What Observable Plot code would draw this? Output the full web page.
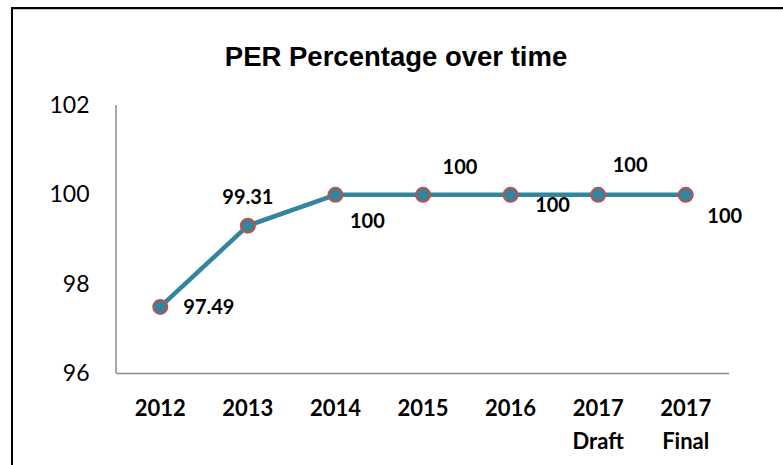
<!DOCTYPE html>
<html><head><meta charset="utf-8">
<script src="https://cdn.jsdelivr.net/npm/d3@7"></script>
<script src="https://cdn.jsdelivr.net/npm/@observablehq/plot@0.6"></script>
<style>
html,body{margin:0;padding:0;background:#fff;}
#wrap{position:relative;width:783px;height:465px;overflow:hidden;}
#chart svg{display:block;}
#border{position:absolute;left:11px;top:7px;width:800px;height:500px;border-top:2px solid #000;border-left:2px solid #000;pointer-events:none;box-shadow: inset 0 1px 0 #c8c8c8;}
</style></head><body>
<div id="wrap"><div id="chart"></div><div id="border"></div></div>
<script>
const categories = ["2012","2013","2014","2015","2016","2017\nDraft","2017\nFinal"];
const values = [97.49, 99.31, 100, 100, 100, 100, 100];
const valueLabels = ["97.49","99.31","100","100","100","100","100"];
const yTicks = [96, 98, 100, 102];
const title = "PER Percentage over time";

// label placement (style, not data)
const labelOffsets = [
  {dx: 23, dy: 1, anchor: "start"},
  {dx: 0, dy: -28, anchor: "middle"},
  {dx: 32, dy: 27, anchor: "middle"},
  {dx: 37, dy: -27, anchor: "middle"},
  {dx: 42, dy: 11, anchor: "middle"},
  {dx: 32, dy: -29, anchor: "middle"},
  {dx: 39, dy: 22, anchor: "middle"}
];

const data = categories.map((c, i) => ({cat: c, value: values[i], label: valueLabels[i]}));

const teal = "#31859C";
const red = "#C0504D";
const axisGray = "#8a8a8a";

const yAxisLine = (index, scales, vals, dim) => {
  const l = document.createElementNS("http://www.w3.org/2000/svg", "line");
  l.setAttribute("x1", dim.marginLeft);
  l.setAttribute("x2", dim.marginLeft);
  l.setAttribute("y1", dim.marginTop);
  l.setAttribute("y2", dim.height - dim.marginBottom);
  l.setAttribute("stroke", axisGray);
  l.setAttribute("stroke-width", 1.5);
  return l;
};

const labelMarks = data.map((d, i) => Plot.text([d], {
  x: "cat", y: "value", text: "label",
  dx: labelOffsets[i].dx, dy: labelOffsets[i].dy, textAnchor: labelOffsets[i].anchor,
  fontSize: 20, fontWeight: "bold", fontFamily: "Lato, sans-serif", fill: "#000"
}));

const chart = Plot.plot({
  width: 783,
  height: 465,
  marginLeft: 116,
  marginRight: 54,
  marginTop: 105,
  marginBottom: 92,
  style: {background: "transparent"},
  x: {type: "point", domain: categories, padding: 0.5, round: false},
  y: {domain: [96, 102]},
  marks: [
    Plot.ruleY([96], {stroke: axisGray, strokeWidth: 1.5}),
    yAxisLine,
    Plot.axisY({ticks: yTicks, tickFormat: d3.format("d"), label: null, tickSize: 0, tickPadding: 27, fontSize: 23, fontFamily: "Lato, sans-serif", fill: "#000"}),
    Plot.axisX({tickSize: 0, tickPadding: 19, fontSize: 22, fontWeight: "bold", fontFamily: "Lato, sans-serif", lineHeight: 1.5, fill: "#000", label: null}),
    Plot.line(data, {x: "cat", y: "value", stroke: teal, strokeWidth: 4.5}),
    Plot.dot(data, {x: "cat", y: "value", r: 7, fill: teal, stroke: red, strokeWidth: 2}),
    ...labelMarks,
    Plot.text([title], {text: d => d, frameAnchor: "top", lineAnchor: "middle", dx: -27, dy: -48, fontSize: 27.5, fontWeight: "bold", fontFamily: "Liberation Sans, Arial, sans-serif", fill: "#000"})
  ]
});
document.getElementById("chart").appendChild(chart);
</script>
</body></html>
